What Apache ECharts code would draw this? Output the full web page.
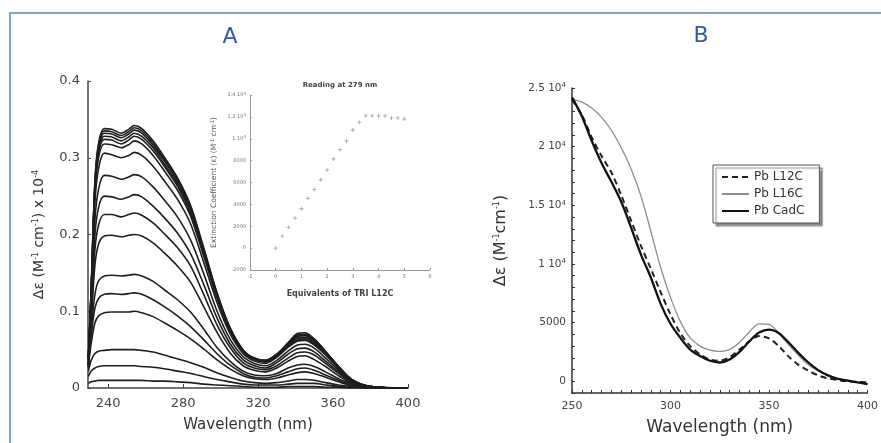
<!DOCTYPE html>
<html lang="en">
<head>
    <meta charset="UTF-8">
    <title>Pb titration spectra</title>
    <script src="https://cdn.jsdelivr.net/npm/echarts@6/dist/echarts.min.js"></script>
</head>
<body style="margin:0; background:#fff;">
<div id="main" style="width: 881px; height: 443px;"></div>
<script type="text/javascript">

    // panel A: titration spectra (x 10^-4)
    const wlA = [229.5, 231, 233, 235, 238, 242, 247, 251, 254, 258, 264, 270, 277, 284, 291, 298, 305, 312, 318, 324, 330, 336, 341, 345, 350, 356, 363, 370, 380, 400];
    const specA01 = [0.040, 0.130, 0.270, 0.320, 0.338, 0.337, 0.332, 0.337, 0.342, 0.338, 0.322, 0.301, 0.274, 0.238, 0.183, 0.125, 0.079, 0.050, 0.039, 0.036, 0.044, 0.059, 0.071, 0.072, 0.064, 0.048, 0.028, 0.011, 0.002, 0];
    const specA02 = [0.040, 0.129, 0.268, 0.317, 0.335, 0.334, 0.329, 0.334, 0.339, 0.335, 0.319, 0.298, 0.272, 0.236, 0.181, 0.124, 0.078, 0.049, 0.039, 0.036, 0.044, 0.058, 0.069, 0.070, 0.063, 0.047, 0.028, 0.011, 0.002, 0];
    const specA03 = [0.039, 0.128, 0.265, 0.314, 0.332, 0.331, 0.326, 0.331, 0.336, 0.332, 0.316, 0.296, 0.269, 0.234, 0.180, 0.123, 0.078, 0.049, 0.038, 0.035, 0.043, 0.058, 0.068, 0.069, 0.062, 0.047, 0.028, 0.011, 0.002, 0];
    const specA04 = [0.039, 0.126, 0.262, 0.311, 0.328, 0.327, 0.322, 0.327, 0.332, 0.328, 0.313, 0.292, 0.266, 0.231, 0.178, 0.121, 0.077, 0.048, 0.038, 0.035, 0.043, 0.057, 0.067, 0.068, 0.061, 0.047, 0.027, 0.011, 0.002, 0];
    const specA05 = [0.038, 0.125, 0.259, 0.307, 0.324, 0.323, 0.318, 0.323, 0.328, 0.324, 0.309, 0.289, 0.263, 0.228, 0.176, 0.120, 0.076, 0.048, 0.037, 0.034, 0.042, 0.056, 0.065, 0.066, 0.060, 0.046, 0.027, 0.010, 0.002, 0];
    const specA06 = [0.038, 0.122, 0.254, 0.301, 0.318, 0.317, 0.313, 0.317, 0.322, 0.318, 0.303, 0.283, 0.258, 0.224, 0.172, 0.118, 0.074, 0.047, 0.037, 0.034, 0.041, 0.055, 0.063, 0.064, 0.058, 0.045, 0.026, 0.010, 0.002, 0];
    const specA07 = [0.036, 0.117, 0.242, 0.287, 0.306, 0.304, 0.300, 0.303, 0.307, 0.303, 0.289, 0.270, 0.246, 0.214, 0.164, 0.112, 0.071, 0.045, 0.035, 0.032, 0.040, 0.053, 0.061, 0.062, 0.056, 0.043, 0.025, 0.010, 0.002, 0];
    const specA08 = [0.033, 0.106, 0.219, 0.260, 0.277, 0.276, 0.272, 0.275, 0.278, 0.275, 0.262, 0.245, 0.223, 0.193, 0.149, 0.101, 0.064, 0.041, 0.032, 0.029, 0.036, 0.048, 0.056, 0.057, 0.052, 0.039, 0.023, 0.009, 0.002, 0];
    const specA09 = [0.029, 0.096, 0.199, 0.236, 0.250, 0.249, 0.246, 0.249, 0.252, 0.249, 0.237, 0.222, 0.202, 0.175, 0.135, 0.092, 0.058, 0.037, 0.029, 0.026, 0.033, 0.044, 0.051, 0.052, 0.047, 0.035, 0.021, 0.008, 0.002, 0];
    const specA10 = [0.027, 0.087, 0.180, 0.213, 0.226, 0.226, 0.223, 0.226, 0.228, 0.225, 0.215, 0.201, 0.183, 0.159, 0.122, 0.083, 0.053, 0.033, 0.026, 0.024, 0.029, 0.039, 0.046, 0.047, 0.043, 0.032, 0.019, 0.007, 0.001, 0];
    const specA11 = [0.030, 0.085, 0.160, 0.188, 0.198, 0.199, 0.197, 0.199, 0.200, 0.198, 0.189, 0.176, 0.159, 0.138, 0.106, 0.073, 0.046, 0.029, 0.023, 0.021, 0.026, 0.035, 0.041, 0.042, 0.037, 0.028, 0.016, 0.006, 0.001, 0];
    const specA12 = [0.030, 0.075, 0.122, 0.140, 0.146, 0.147, 0.146, 0.147, 0.148, 0.146, 0.139, 0.128, 0.115, 0.099, 0.077, 0.053, 0.035, 0.022, 0.017, 0.016, 0.019, 0.026, 0.030, 0.031, 0.028, 0.021, 0.012, 0.005, 0.001, 0];
    const specA13 = [0.030, 0.068, 0.104, 0.117, 0.122, 0.123, 0.122, 0.123, 0.124, 0.122, 0.115, 0.106, 0.094, 0.080, 0.063, 0.045, 0.030, 0.019, 0.014, 0.013, 0.016, 0.021, 0.025, 0.026, 0.023, 0.017, 0.010, 0.004, 0.001, 0];
    const specA14 = [0.028, 0.058, 0.085, 0.094, 0.098, 0.099, 0.099, 0.099, 0.100, 0.098, 0.093, 0.085, 0.075, 0.064, 0.051, 0.037, 0.025, 0.016, 0.012, 0.011, 0.013, 0.017, 0.020, 0.021, 0.019, 0.014, 0.008, 0.003, 0.001, 0];
    const specA15 = [0.022, 0.036, 0.045, 0.048, 0.049, 0.050, 0.050, 0.050, 0.050, 0.049, 0.047, 0.043, 0.038, 0.033, 0.027, 0.020, 0.014, 0.009, 0.007, 0.006, 0.007, 0.009, 0.011, 0.011, 0.010, 0.007, 0.004, 0.002, 0, 0];
    const specA16 = [0.015, 0.022, 0.026, 0.028, 0.029, 0.029, 0.029, 0.029, 0.029, 0.028, 0.027, 0.025, 0.022, 0.019, 0.015, 0.011, 0.008, 0.005, 0.004, 0.004, 0.004, 0.005, 0.006, 0.006, 0.006, 0.004, 0.002, 0.001, 0, 0];
    const specA17 = [0.006, 0.008, 0.009, 0.010, 0.010, 0.010, 0.010, 0.010, 0.010, 0.010, 0.009, 0.009, 0.008, 0.007, 0.005, 0.004, 0.003, 0.002, 0.001, 0.001, 0.001, 0.002, 0.002, 0.002, 0.002, 0.001, 0.001, 0, 0, 0];
    const spectraA = [specA01, specA02, specA03, specA04, specA05, specA06, specA07, specA08, specA09,
        specA10, specA11, specA12, specA13, specA14, specA15, specA16, specA17];
    const ticksA = [240, 280, 320, 360, 400];

    // inset: reading at 279 nm
    const eqInset = [0, 0.25, 0.5, 0.75, 1, 1.25, 1.5, 1.75, 2, 2.25, 2.5, 2.75, 3, 3.25, 3.5, 3.75, 4, 4.25, 4.5, 4.75, 5];
    const extInset = [0, 1100, 1900, 2750, 3600, 4550, 5350, 6250, 7150, 8150, 9000, 9800, 10800, 11500, 12100, 12100, 12100, 12100, 11900, 11900, 11800];

    // panel B
    const wlB = [250, 255, 260, 265, 270, 275, 280, 285, 290, 295, 300, 305, 310, 315, 320, 325, 330, 335, 340, 345, 350, 355, 360, 365, 370, 375, 380, 385, 390, 395, 400];
    const pbL12C = [24000, 22700, 20800, 19200, 17800, 15850, 13700, 11550, 9600, 7600, 5700, 4100, 3000, 2300, 1850, 1750, 2050, 2700, 3400, 3850, 3650, 3000, 2100, 1400, 900, 500, 250, 100, 0, -50, -100];
    const pbL16C = [24000, 23800, 23300, 22500, 21400, 19900, 18100, 15800, 12800, 9700, 7150, 5100, 3700, 3000, 2650, 2550, 2700, 3300, 4200, 4900, 4850, 4100, 3100, 2200, 1400, 850, 450, 200, 50, -100, -250];
    const pbCadC = [24200, 22600, 20500, 18600, 17000, 15300, 13100, 10800, 8850, 6600, 4900, 3700, 2700, 2150, 1750, 1600, 1850, 2500, 3400, 4150, 4400, 4100, 3300, 2400, 1600, 950, 500, 200, 50, -100, -250];

    const FONT = 'DejaVu Sans';
    const sup = {
        n: { fontFamily: FONT },
        s: { fontSize: 8, verticalAlign: 'top', padding: [0, 0, 6, 0], fontFamily: FONT }
    };

    function pairs(xs, ys) {
        return xs.map(function (x, i) { return [x, ys[i]]; });
    }

    function init() {
        let myChart = echarts.init(document.getElementById('main'), null, { renderer: 'canvas' });

        let series = spectraA.map(function (v) {
            return {
                type: 'line', xAxisIndex: 0, yAxisIndex: 0,
                data: pairs(wlA, v), symbol: 'none', smooth: 0.3,
                lineStyle: { color: '#1e1e1e', width: 1.6 }, silent: true
            };
        });
        series.push({
            type: 'scatter', xAxisIndex: 1, yAxisIndex: 1,
            data: pairs(eqInset, extInset),
            symbol: 'path://M4,0h2v4h4v2h-4v4h-2v-4h-4v-2h4z', symbolSize: 4,
            itemStyle: { color: '#8a8a8a' }
        });
        series.push({
            name: 'Pb L12C', type: 'line', xAxisIndex: 2, yAxisIndex: 2,
            data: pairs(wlB, pbL12C), symbol: 'none', smooth: 0.3,
            lineStyle: { color: '#222', width: 2, type: [6, 4] }, itemStyle: { color: '#222' }
        });
        series.push({
            name: 'Pb L16C', type: 'line', xAxisIndex: 2, yAxisIndex: 2,
            data: pairs(wlB, pbL16C), symbol: 'none', smooth: 0.3,
            lineStyle: { color: '#8c8c8c', width: 1.3 }, itemStyle: { color: '#8c8c8c' }
        });
        series.push({
            name: 'Pb CadC', type: 'line', xAxisIndex: 2, yAxisIndex: 2,
            data: pairs(wlB, pbCadC), symbol: 'none', smooth: 0.3,
            lineStyle: { color: '#111', width: 2.3 }, itemStyle: { color: '#111' }
        });

        const option = {
            animation: false,
            backgroundColor: '#fff',
            graphic: [
                { type: 'rect', shape: { x: 10, y: 13, width: 900, height: 500 },
                  style: { fill: 'none', stroke: '#86a3cf', lineWidth: 2 } },
                { type: 'text', x: 230, y: 37,
                  style: { text: 'A', font: '22px "DejaVu Sans"', fill: '#2f5cb0', align: 'center', verticalAlign: 'middle' } },
                { type: 'text', x: 701, y: 36,
                  style: { text: 'B', font: '22px "DejaVu Sans"', fill: '#2f5cb0', align: 'center', verticalAlign: 'middle' } },
                { type: 'text', x: 340, y: 85,
                  style: { text: 'Reading at 279 nm', font: 'bold 7px "DejaVu Sans"', fill: '#444', align: 'center', verticalAlign: 'middle' } }
            ],
            legend: {
                data: ['Pb L12C', 'Pb L16C', 'Pb CadC'],
                orient: 'vertical', left: 713, top: 165,
                itemWidth: 27, itemHeight: 14, itemGap: 5, padding: [6, 15, 6, 8],
                itemStyle: { opacity: 0 },
                textStyle: { fontSize: 12, color: '#333', fontFamily: FONT },
                backgroundColor: '#fff', borderColor: '#555', borderWidth: 1,
                shadowColor: 'rgba(0,0,0,0.45)', shadowOffsetX: 3, shadowOffsetY: 3, shadowBlur: 1
            },
            grid: [
                { left: 88, right: 473, top: 81, bottom: 55 },
                { left: 250, right: 451, top: 95, bottom: 173 },
                { left: 572, right: 13, top: 88, bottom: 50 }
            ],
            xAxis: [
                {
                    gridIndex: 0, type: 'value', min: 229.3, max: 400,
                    name: 'Wavelength (nm)', nameLocation: 'middle', nameGap: 30,
                    nameTextStyle: { fontSize: 15, color: '#333', fontFamily: FONT },
                    axisLine: { onZero: false, lineStyle: { color: '#444', width: 1.5 } },
                    axisTick: { inside: true, length: 4, customValues: ticksA, lineStyle: { color: '#444' } },
                    axisLabel: { customValues: ticksA, fontSize: 13, color: '#444', margin: 9, fontFamily: FONT },
                    splitLine: { show: false }
                },
                {
                    gridIndex: 1, type: 'value', min: -1, max: 6, interval: 1,
                    name: 'Equivalents of TRI L12C', nameLocation: 'middle', nameGap: 20,
                    nameTextStyle: { fontSize: 8, color: '#444', fontWeight: 'bold', fontFamily: FONT },
                    axisLine: { onZero: false, lineStyle: { color: '#999' } },
                    axisTick: { inside: true, length: 2, lineStyle: { color: '#999' } },
                    axisLabel: { fontSize: 5, color: '#777', margin: 4, fontFamily: FONT },
                    splitLine: { show: false }
                },
                {
                    gridIndex: 2, type: 'value', min: 250, max: 400, interval: 5,
                    name: 'Wavelength (nm)', nameLocation: 'middle', nameGap: 26,
                    nameTextStyle: { fontSize: 17, color: '#333', fontFamily: FONT },
                    axisLine: { onZero: false, lineStyle: { color: '#333', width: 1.5 } },
                    axisTick: { inside: true, length: 3, lineStyle: { color: '#333' } },
                    axisLabel: {
                        fontSize: 11, color: '#444', margin: 8, fontFamily: FONT,
                        formatter: function (v) { return v % 50 === 0 ? String(v) : ''; }
                    },
                    splitLine: { show: false }
                }
            ],
            yAxis: [
                {
                    gridIndex: 0, type: 'value', min: 0, max: 0.4, interval: 0.1,
                    name: 'Δε (M{s|-1} cm{s|-1}) x 10{s|-4}', nameLocation: 'middle', nameGap: 42, nameRotate: 90,
                    nameTextStyle: { fontSize: 14, color: '#333', fontFamily: FONT, rich: sup },
                    axisLine: { show: true, onZero: false, lineStyle: { color: '#444', width: 1.5 } },
                    axisTick: { show: true, inside: true, length: 3, lineStyle: { color: '#444' } },
                    axisLabel: {
                        fontSize: 13, color: '#444', margin: 8, fontFamily: FONT,
                        formatter: function (v) { return v === 0 ? '0' : v.toFixed(1); }
                    },
                    splitLine: { show: false }
                },
                {
                    gridIndex: 1, type: 'value', min: -2000, max: 14000, interval: 2000,
                    name: 'Extinction Coefficient (ε) (M{s|-1} cm{s|-1})', nameLocation: 'middle', nameGap: 31, nameRotate: 90,
                    nameTextStyle: { fontSize: 7.5, color: '#555', fontFamily: FONT, rich: { s: { fontSize: 5, verticalAlign: 'top', padding: [0, 0, 4, 0] } } },
                    axisLine: { show: true, onZero: false, lineStyle: { color: '#999' } },
                    axisTick: { show: true, inside: true, length: 2, lineStyle: { color: '#999' } },
                    axisLabel: {
                        fontSize: 5, color: '#777', margin: 4, fontFamily: FONT,
                        formatter: function (v) { return v >= 10000 ? (v / 10000) + ' 10{s|4}' : String(v); },
                        rich: { s: { fontSize: 4, verticalAlign: 'top', padding: [0, 0, 3, 0] } }
                    },
                    splitLine: { show: false }
                },
                {
                    gridIndex: 2, type: 'value', min: -1000, max: 25000, interval: 1000,
                    name: 'Δε (M{s|-1}cm{s|-1})', nameLocation: 'middle', nameGap: 63, nameRotate: 90,
                    nameTextStyle: { fontSize: 16, color: '#333', fontFamily: FONT, rich: sup },
                    axisLine: { show: true, onZero: false, lineStyle: { color: '#333', width: 1.5 } },
                    axisTick: { show: true, inside: true, length: 3, lineStyle: { color: '#333' } },
                    axisLabel: {
                        fontSize: 10.5, color: '#444', margin: 6, fontFamily: FONT,
                        formatter: function (v) {
                            if (v % 5000 !== 0 || v < 0) return '';
                            if (v < 10000) return String(v);
                            return (v / 10000) + ' 10{s|4}';
                        },
                        rich: { s: { fontSize: 7, verticalAlign: 'top', padding: [0, 0, 5, 0] } }
                    },
                    splitLine: { show: false }
                }
            ],
            series: series
        };
        myChart.setOption(option);
    }

    init();
</script>
</body>
</html>
